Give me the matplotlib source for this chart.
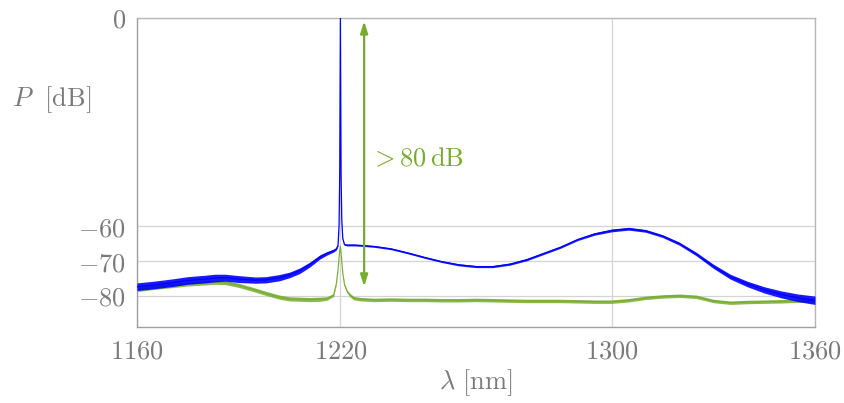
import matplotlib
matplotlib.use("Agg")
import matplotlib.pyplot as plt

plt.rcParams['mathtext.fontset'] = 'cm'
plt.rcParams['font.family'] = ['DejaVu Serif']

wavelength = [1160, 1165, 1170, 1175, 1180, 1183, 1186, 1190, 1195, 1198, 1202, 1205,
              1208, 1211, 1214, 1216, 1218, 1218.8, 1219.3, 1219.6, 1219.8, 1220,
              1220.2, 1220.4, 1220.7, 1221.2, 1222, 1223, 1224, 1226, 1230, 1235,
              1240, 1245, 1250, 1255, 1260, 1265, 1270, 1275, 1280, 1285, 1290,
              1295, 1300, 1305, 1310, 1315, 1320, 1325, 1330, 1335, 1340, 1345,
              1350, 1355, 1360]

blue_power = [-77.4, -76.9, -76.3, -75.6, -75.2, -74.9, -74.8, -75.2, -75.5, -75.4, -74.8, -74.0,
              -72.8, -71.0, -68.8, -67.8, -67.0, -66.5, -65.5, -60.0, -45.0, 0.0,
              -45.0, -58.0, -63.5, -65.3, -65.4, -65.4, -65.4, -65.5, -65.8, -66.5,
              -67.7, -69.0, -70.2, -71.1, -71.6, -71.6, -70.9, -69.6, -67.8, -66.0, -63.8,
              -62.2, -61.2, -60.7, -61.3, -62.8, -65.0, -68.0, -71.5, -74.5, -76.6, -78.3,
              -79.6, -80.6, -81.3]

blue_noise = [1.1, 1.1, 1.1, 1.1, 1.1, 1.1, 1.0, 1.0, 0.9, 0.9, 0.9, 0.8,
              0.8, 0.7, 0.6, 0.5, 0.4, 0.3, 0.2, 0.1, 0.1, 0.1,
              0.1, 0.1, 0.1, 0.2, 0.25, 0.25, 0.25, 0.25, 0.25, 0.25,
              0.25, 0.25, 0.25, 0.3, 0.3, 0.3, 0.3, 0.3, 0.3, 0.3, 0.3,
              0.35, 0.4, 0.4, 0.4, 0.4, 0.45, 0.5, 0.6, 0.7, 0.8, 0.9,
              1.0, 1.1, 1.2]

green_power = [-78.2, -77.6, -77.1, -76.6, -76.3, -76.1, -76.2, -77.0, -78.4, -79.3, -80.4, -80.9,
               -81.0, -81.1, -81.0, -80.8, -79.8, -76.5, -72.5, -69.0, -67.0, -65.8,
               -67.5, -70.0, -73.5, -76.8, -78.8, -80.0, -80.7, -81.0, -81.2, -81.1,
               -81.2, -81.2, -81.3, -81.3, -81.2, -81.3, -81.4, -81.5, -81.5, -81.5, -81.6,
               -81.7, -81.7, -81.3, -80.6, -80.2, -80.0, -80.3, -81.5, -82.0, -81.8, -81.7,
               -81.6, -81.4, -81.4]

green_noise = [0.6, 0.6, 0.6, 0.6, 0.6, 0.6, 0.6, 0.6, 0.6, 0.6, 0.6, 0.6,
               0.6, 0.6, 0.6, 0.5, 0.4, 0.3, 0.2, 0.1, 0.1, 0.1,
               0.1, 0.1, 0.2, 0.3, 0.4, 0.5, 0.5, 0.5, 0.5, 0.5,
               0.5, 0.5, 0.5, 0.5, 0.5, 0.5, 0.5, 0.5, 0.5, 0.5, 0.5,
               0.5, 0.5, 0.5, 0.5, 0.5, 0.5, 0.5, 0.5, 0.5, 0.5, 0.5,
               0.5, 0.5, 0.5]

x_ticks = [1160, 1220, 1300, 1360]
y_ticks = [-80, -70, -60, 0]

BLUE = '#0000ff'
GREEN = '#77ac30'
GRAY = '#7a7a7a'

fig = plt.figure(figsize=(8.45, 4.03), dpi=100)
ax = fig.add_axes([137/845, 1-327/403, (815-137)/845, (327-18)/403])

lo_b = [p - n for p, n in zip(blue_power, blue_noise)]
hi_b = [p + n for p, n in zip(blue_power, blue_noise)]
lo_g = [p - n for p, n in zip(green_power, green_noise)]
hi_g = [p + n for p, n in zip(green_power, green_noise)]

ax.fill_between(wavelength, lo_g, hi_g, color=GREEN, lw=0, alpha=0.85, zorder=2)
ax.plot(wavelength, green_power, color=GREEN, lw=0.8, zorder=2)
ax.fill_between(wavelength, lo_b, hi_b, color=BLUE, lw=0, alpha=0.9, zorder=3)
ax.plot(wavelength, blue_power, color=BLUE, lw=0.9, zorder=3)

ax.set_xlim(1160, 1360)
ax.set_ylim(-89, 0)
ax.set_xticks(x_ticks)
ax.set_yticks(y_ticks)
ax.set_xticklabels([rf'${v}$' for v in x_ticks])
ax.set_yticklabels([rf'${v}$' for v in y_ticks])
ax.tick_params(axis='both', length=0, labelsize=19, labelcolor=GRAY, pad=8)
ax.grid(True, color='#d4d4d4', lw=0.9, zorder=0)
ax.set_axisbelow(True)
for s in ax.spines.values():
    s.set_color('#b8b8b8')
    s.set_linewidth(1.0)
ax.spines['left'].set_color('#a0a0a0')
ax.spines['bottom'].set_color('#a0a0a0')

ax.annotate('', xy=(1227, -0.9), xytext=(1227, -77.4),
            arrowprops=dict(arrowstyle='<|-|>,head_length=0.7,head_width=0.22',
                            color=GREEN, lw=1.6, shrinkA=0, shrinkB=0), zorder=4)
ax.text(1228.6, -40.6, r'$>80\,\mathrm{dB}$', color=GREEN, fontsize=19,
        ha='left', va='center')

fig.text(12/845, 1-100/403, r'$P\ \ [\mathrm{dB}]$', color=GRAY, fontsize=19,
         ha='left', va='center')
fig.text(476/845, 1-383/403, r'$\lambda\ [\mathrm{nm}]$', color=GRAY, fontsize=19,
         ha='center', va='center')

fig.savefig('out.png', dpi=100)
